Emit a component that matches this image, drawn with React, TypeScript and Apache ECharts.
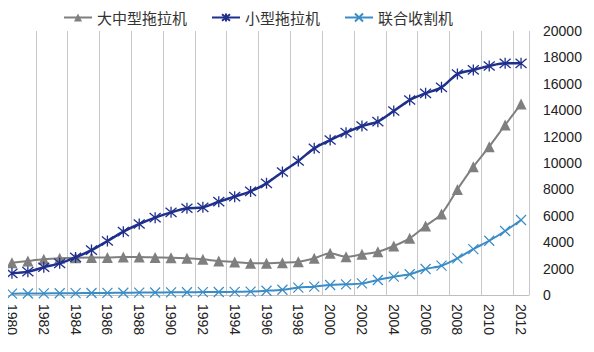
import React, { useEffect, useRef } from "react";
import * as echarts from "echarts";

const years = [
  "1980","1981","1982","1983","1984","1985","1986","1987","1988","1989",
  "1990","1991","1992","1993","1994","1995","1996","1997","1998","1999",
  "2000","2001","2002","2003","2004","2005","2006","2007","2008","2009",
  "2010","2011","2012",
];

const largeTractors = [
  2450, 2580, 2700, 2780, 2830, 2840, 2840, 2880, 2880, 2850,
  2830, 2780, 2700, 2580, 2500, 2400, 2400, 2450, 2520, 2780,
  3160, 2900, 3080, 3280, 3710, 4290, 5230, 6140, 8000, 9720,
  11240, 12880, 14470,
];

const smallTractors = [
  1640, 1770, 2100, 2400, 2850, 3400, 4090, 4800, 5380, 5860,
  6260, 6570, 6640, 7070, 7450, 7850, 8460, 9320, 10150, 11110,
  11740, 12300, 12800, 13130, 13940, 14770, 15280, 15730, 16740, 17050,
  17350, 17550, 17550,
];

const harvesters = [
  100, 110, 120, 130, 140, 150, 160, 170, 180, 190,
  200, 210, 220, 230, 240, 260, 320, 400, 560, 630,
  760, 810, 880, 1140, 1390, 1570, 1970, 2220, 2780, 3480,
  4110, 4850, 5680,
];

const seriesNames = ["大中型拖拉机", "小型拖拉机", "联合收割机"];

const asterisk = "path://M0,0L10,10M10,0L0,10M5,-1L5,11";
const cross = "path://M0,0L10,10M10,0L0,10";

export default function App() {
  const ref = useRef<HTMLDivElement>(null);
  useEffect(() => {
    if (!ref.current) return;
    const chart = echarts.init(ref.current, undefined, { renderer: "svg" });
    chart.setOption({
      animation: false,
      backgroundColor: "#ffffff",
      textStyle: { fontFamily: "'Liberation Sans', 'Noto Sans CJK SC', sans-serif" },
      legend: {
        top: 5,
        left: 58,
        itemWidth: 28,
        itemHeight: 10,
        itemGap: 24,
        textStyle: { fontSize: 15, color: "#333", fontFamily: "'Noto Sans CJK SC', sans-serif" },
        data: seriesNames,
      },
      grid: { left: 4, right: 65, top: 31, bottom: 57, containLabel: false },
      xAxis: {
        type: "category",
        data: years,
        boundaryGap: true,
        axisLine: { show: true, lineStyle: { color: "#bfbfbf", width: 1 } },
        axisTick: { show: false },
        splitLine: { show: true, lineStyle: { color: "#c8c8c8", width: 1 } },
        axisLabel: {
          interval: 1,
          rotate: -90,
          margin: 9,
          fontSize: 14,
          color: "#222",
        },
      },
      yAxis: {
        type: "value",
        position: "right",
        min: 0,
        max: 20000,
        interval: 2000,
        axisLine: { show: false },
        axisTick: { show: false },
        splitLine: { show: false },
        axisLabel: {
          fontSize: 14,
          color: "#222",
          margin: 14,
          align: "left",
          formatter: (v: number) => String(v),
        },
      },
      series: [
        {
          name: seriesNames[0],
          type: "line",
          data: largeTractors,
          smooth: 0.3,
          showAllSymbol: true,
          symbol: "triangle",
          symbolSize: 11,
          lineStyle: { color: "#7f7f7f", width: 2 },
          itemStyle: { color: "#7f7f7f" },
          z: 3,
        },
        {
          name: seriesNames[1],
          type: "line",
          data: smallTractors,
          smooth: 0.3,
          showAllSymbol: true,
          symbol: asterisk,
          symbolSize: 11,
          lineStyle: { color: "#1f2f8c", width: 2.5 },
          itemStyle: { color: "#1f2f8c", borderColor: "#1f2f8c", borderWidth: 1.3 },
          z: 4,
        },
        {
          name: seriesNames[2],
          type: "line",
          data: harvesters,
          smooth: 0.3,
          showAllSymbol: true,
          symbol: cross,
          symbolSize: 10,
          lineStyle: { color: "#3a8cc6", width: 2 },
          itemStyle: { color: "#3a8cc6", borderColor: "#3a8cc6", borderWidth: 1.2 },
          z: 5,
        },
      ],
    });
    return () => chart.dispose();
  }, []);
  return <div ref={ref} style={{ width: 594, height: 352, margin: -8 }} />;
}
